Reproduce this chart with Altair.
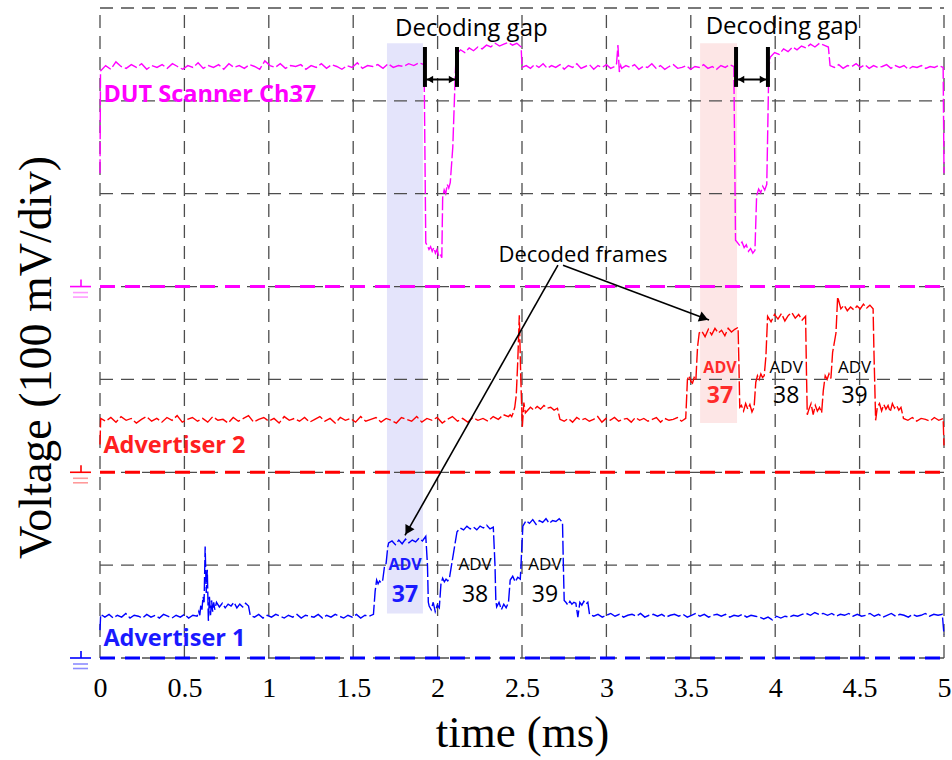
import math
import altair as alt
import pandas as pd

# ---------------------------------------------------------------- axes
TIME_TICKS = [0, 0.5, 1, 1.5, 2, 2.5, 3, 3.5, 4, 4.5, 5]          # ms
VOLT_DIVS = [0, 100, 200, 300, 400, 500, 600, 700]                  # mV, 100 mV/div

# ---------------------------------------------------------------- channels
CHANNELS = ["Advertiser 1", "Advertiser 2", "DUT Scanner Ch37"]
CH_GROUND = [0, 200, 400]            # ground reference of each channel (mV on screen)
CH_COLOR = ["#0000ff", "#ff0000", "#ff00ff"]
CH_LIGHT = ["#8c8cff", "#ff9a9a", "#ff9aff"]
CH_LABEL_COLOR = ["#1a1aff", "#ff2020", "#ff00ff"]
CH_LABEL_T = [0.02, 0.02, 0.02]
CH_LABEL_V = [20, 228, 606]

# Captured waveforms, mV above each channel's ground.
# Each piece: (start ms, end ms, samples spread evenly over the piece)
ADV1_TRACE = [
    (0.000, 0.000, [30]),
    (0.004, 0.575, [47, 44, 47, 43, 46, 44, 48, 43, 46, 45, 43, 47, 44, 46, 43, 47, 45, 43, 46, 44, 47, 43, 46, 45]),
    (0.585, 0.680, [50, 46, 58, 52, 66, 60, 120, 70, 95, 40, 66, 46, 62, 50, 60, 52]),
    (0.690, 0.880, [60, 55, 59, 54, 58, 56, 60, 54, 58, 55, 59, 56]),
    (0.890, 1.620, [46, 44, 47, 43, 46, 44, 47, 45, 43, 46, 44, 47, 43, 46, 45, 44, 47, 43, 46, 44, 47, 45, 43, 46, 44, 47, 43, 46, 45, 47]),
    (1.630, 1.665, [72, 84, 80, 83, 81]),
    (1.675, 1.705, [84, 98, 102, 120]),
    (1.710, 1.930, [124, 126, 122, 127, 123, 128, 124, 127, 125, 129, 126, 131]),
    (1.940, 1.945, [100, 60]),
    (1.950, 2.010, [56, 52, 60, 50, 57, 54]),
    (2.020, 2.070, [80, 86, 82, 85, 83, 86]),
    (2.115, 2.330, [136, 140, 138, 142, 139, 141, 138, 142, 140, 143, 139, 141]),
    (2.340, 2.345, [100, 62]),
    (2.350, 2.420, [55, 60, 52, 58, 54, 60]),
    (2.430, 2.490, [84, 88, 82, 87, 85]),
    (2.505, 2.740, [142, 148, 145, 149, 144, 148, 146, 150, 145, 148, 147, 150, 146]),
    (2.745, 2.750, [100, 62]),
    (2.760, 2.890, [60, 57, 61, 58, 60, 59, 44, 60, 57, 61, 58, 60]),
    (2.900, 4.990, [47, 45, 47, 44, 46, 48, 45, 47, 44, 46, 47, 45, 48, 44, 46, 47, 45, 47, 44, 46, 47,
                    45, 47, 44, 46, 48, 45, 47, 44, 46, 47, 45, 47, 44, 46, 45, 47, 44, 46, 45, 44,
                    42, 44, 41, 45, 43, 45, 44, 46, 45, 47, 48, 46, 49, 47, 48, 46, 48, 45, 47, 46, 48, 45,
                    47, 45, 46, 48, 45, 47, 44, 46, 48, 45, 47, 46, 44, 47, 45, 46, 48, 45, 47, 46, 47]),
    (5.000, 5.000, [25]),
]

ADV2_TRACE = [
    (0.000, 0.000, [30]),
    (0.004, 2.420, [58, 55, 59, 54, 60, 56, 58, 53, 57, 60, 55, 58, 54, 59, 56, 61, 54, 57, 59, 55,
                    58, 54, 60, 56, 57, 53, 59, 55, 58, 61, 54, 57, 59, 55, 58, 53, 60, 56, 58, 55,
                    59, 54, 57, 60, 55, 58, 53, 59, 56, 58, 54, 60, 55, 57, 59, 54, 58, 56, 53, 59,
                    57, 55, 60, 54, 58, 56, 59, 53, 57, 60, 55, 58, 54, 59, 56, 58, 55, 60, 57, 62, 60]),
    (2.430, 2.520, [62, 60, 64, 70, 83, 120, 169, 100, 49, 75, 64]),
    (2.530, 2.710, [66, 70, 67, 71, 68, 72, 69, 70, 67, 69]),
    (2.725, 3.470, [57, 55, 58, 54, 59, 56, 58, 55, 57, 60, 54, 58, 56, 59, 55, 57, 58, 54, 59, 56,
                    58, 55, 57, 59, 54, 58, 56, 57, 59, 55, 58]),
    (3.480, 3.530, [100, 104, 98, 96, 102, 99]),
    (3.540, 3.550, [135, 150]),
    (3.565, 3.780, [152, 146, 154, 148, 155, 150, 153, 147, 155, 151, 154, 156]),
    (3.785, 3.790, [117, 70]),
    (3.800, 3.875, [72, 66, 74, 68, 73, 65, 70]),
    (3.885, 3.935, [97, 104, 100, 106, 102, 104]),
    (3.945, 3.945, [125]),
    (3.955, 4.180, [168, 162, 170, 165, 171, 163, 169, 172, 166, 170, 164, 168]),
    (4.185, 4.190, [110, 62]),
    (4.200, 4.275, [68, 74, 62, 72, 66, 70, 64]),
    (4.285, 4.330, [88, 104, 100, 106, 101]),
    (4.340, 4.360, [129, 150]),
    (4.370, 4.580, [189, 176, 180, 174, 178, 175, 179, 176, 181, 177, 180, 176]),
    (4.585, 4.595, [130, 56]),
    (4.605, 4.745, [70, 74, 66, 73, 68, 72, 65, 74, 69, 72, 67, 70]),
    (4.760, 4.995, [58, 56, 59, 55, 58, 57, 55, 59, 56, 58]),
    (5.000, 5.000, [29]),
]

DUT_TRACE = [
    (0.000, 0.000, [122]),
    (0.003, 1.920, [232, 238, 234, 242, 237, 235, 239, 236, 240, 234, 238, 236, 239, 235, 240, 237, 234, 238, 236, 241,
                    235, 238, 236, 239, 234, 240, 236, 238, 235, 239, 237, 234, 243, 238, 236, 240, 235, 238, 237, 239,
                    234, 238, 236, 240, 235, 239, 237, 234, 238, 236, 241, 235, 238, 237, 239, 235, 240, 236, 238, 237,
                    240, 238, 241, 239]),
    (1.930, 2.025, [47, 44, 40, 43, 38, 42, 36, 40, 33, 35, 31]),
    (2.030, 2.075, [96, 104, 100, 110, 106, 112]),
    (2.090, 2.105, [150, 230]),
    (2.110, 2.495, [250, 255, 252, 257, 254, 258, 256, 260, 258, 262, 259, 261, 263, 260, 262, 258]),
    (2.500, 3.050, [236, 238, 235, 239, 236, 240, 235, 238, 236, 239, 234, 238, 236, 240, 235, 237, 239, 234, 238, 236,
                    239, 235, 237]),
    (3.060, 3.085, [240, 260, 231, 238]),
    (3.090, 3.755, [235, 238, 236, 239, 234, 237, 236, 240, 235, 238, 234, 237, 239, 235, 236, 238, 234, 237, 236, 239,
                    235, 237, 234, 238, 236, 239, 237]),
    (3.765, 3.880, [50, 47, 44, 48, 42, 45, 38, 41, 36, 39]),
    (3.890, 3.950, [98, 105, 101, 108, 104, 110]),
    (3.955, 3.962, [160, 235]),
    (3.970, 4.315, [247, 252, 250, 256, 253, 258, 255, 259, 257, 261, 258, 262, 260, 258]),
    (4.325, 4.995, [238, 236, 239, 235, 238, 237, 240, 236, 239, 235, 238, 236, 237, 239, 235, 238, 236, 238, 234, 237,
                    236, 238, 235, 237, 236, 238, 236]),
    (5.000, 5.000, [122]),
]
TRACES = [ADV1_TRACE, ADV2_TRACE, DUT_TRACE]

# ---------------------------------------------------------------- highlighted frames
BAND_T0 = [1.700, 3.555]
BAND_T1 = [1.913, 3.774]
BAND_LO = [48, 253]
BAND_HI = [662, 662]
BAND_COLOR = ["#e4e4fb", "#fde6e6"]

# ---------------------------------------------------------------- decoding gaps
GAP_BAR_T = [1.925, 2.115, 3.768, 3.957]
GAP_BAR_LO, GAP_BAR_HI = 615, 658
GAP_ARROW_T0 = [1.925, 3.768]
GAP_ARROW_T1 = [2.115, 3.957]
GAP_ARROW_V = 623
GAP_TEXT = ["Decoding gap", "Decoding gap"]
GAP_TEXT_T = [2.200, 4.04]
GAP_TEXT_V = [677, 680]

# ---------------------------------------------------------------- decoded-frame callout
CALLOUT_TEXT = "Decoded frames"
CALLOUT_T, CALLOUT_V = 2.861, 434
CALLOUT_FROM_T = [2.713, 2.743]
CALLOUT_FROM_V = [423, 423]
CALLOUT_TIP_T = [1.807, 3.608]
CALLOUT_TIP_V = [132, 364]

# ---------------------------------------------------------------- advertising-channel tags
TAG_CH = ["37", "38", "39", "37", "38", "39"]
TAG_T = [1.807, 2.222, 2.636, 3.673, 4.065, 4.470]
TAG_ADV_V = [100, 100, 100, 312, 312, 312]
TAG_NUM_V = [68, 68, 68, 282, 282, 282]
TAG_COLOR = ["#1a1aff", "black", "black", "#ff2a2a", "black", "black"]
TAG_BOLD = [True, False, False, True, False, False]

# ---------------------------------------------------------------- figure geometry
W, H = 844, 650
PX_PER_MS = W / (TIME_TICKS[-1] - TIME_TICKS[0])
PX_PER_MV = H / (VOLT_DIVS[-1] - VOLT_DIVS[0])

SANS = "Open Sans"
SERIF = "Liberation Serif"

# ---------------------------------------------------------------- tables
rows = []
for ci, pieces in enumerate(TRACES):
    k = 0
    for t0, t1, samples in pieces:
        n = len(samples)
        for i, mv in enumerate(samples):
            t = t0 if n == 1 else t0 + (t1 - t0) * i / (n - 1)
            rows.append({"channel": CHANNELS[ci], "idx": k, "t": t,
                         "v": mv + CH_GROUND[ci], "color": CH_COLOR[ci]})
            k += 1
trace_df = pd.DataFrame(rows)

band_df = pd.DataFrame({"t": BAND_T0, "t2": BAND_T1, "v": BAND_LO, "v2": BAND_HI, "color": BAND_COLOR})
vgrid_df = pd.DataFrame({"t": TIME_TICKS, "v": VOLT_DIVS[0], "v2": VOLT_DIVS[-1]})
hgrid_df = pd.DataFrame({"t": TIME_TICKS[0], "t2": TIME_TICKS[-1], "v": VOLT_DIVS})
ground_df = pd.DataFrame({"t": TIME_TICKS[0], "t2": TIME_TICKS[-1], "v": CH_GROUND, "color": CH_COLOR})


def ms(px):
    return px / PX_PER_MS


def mv(px):
    return px / PX_PER_MV


# ground symbols drawn just left of the screen, sized in pixels
sym = []
for g, c, lc in zip(CH_GROUND, CH_COLOR, CH_LIGHT):
    sym.append({"t": -ms(19), "t2": -ms(19), "v": g, "v2": g + mv(7), "color": c})
    sym.append({"t": -ms(30), "t2": -ms(9), "v": g, "v2": g, "color": c})
    sym.append({"t": -ms(27), "t2": -ms(12), "v": g - mv(6), "v2": g - mv(6), "color": lc})
    sym.append({"t": -ms(27), "t2": -ms(12), "v": g - mv(10.5), "v2": g - mv(10.5), "color": lc})
sym_df = pd.DataFrame(sym)

label_df = pd.DataFrame({"t": CH_LABEL_T, "v": CH_LABEL_V, "text": CHANNELS, "color": CH_LABEL_COLOR})

gapbar_df = pd.DataFrame({"t": GAP_BAR_T, "v": GAP_BAR_LO, "v2": GAP_BAR_HI})
gaparrow_df = pd.DataFrame({"t": GAP_ARROW_T0, "t2": GAP_ARROW_T1, "v": GAP_ARROW_V})
head_rows = []
for a, b in zip(GAP_ARROW_T0, GAP_ARROW_T1):
    head_rows.append({"t": a + ms(5), "v": GAP_ARROW_V, "shape": "triangle-left"})
    head_rows.append({"t": b - ms(5), "v": GAP_ARROW_V, "shape": "triangle-right"})
gaphead_df = pd.DataFrame(head_rows)
gaptext_df = pd.DataFrame({"t": GAP_TEXT_T, "v": GAP_TEXT_V, "text": GAP_TEXT})

callout_df = pd.DataFrame({"t": CALLOUT_FROM_T, "v": CALLOUT_FROM_V, "t2": CALLOUT_TIP_T, "v2": CALLOUT_TIP_V})
heads = []
for ft, fv, tt, tv in zip(CALLOUT_FROM_T, CALLOUT_FROM_V, CALLOUT_TIP_T, CALLOUT_TIP_V):
    dx = (tt - ft) * PX_PER_MS
    dy = -(tv - fv) * PX_PER_MV
    L = math.hypot(dx, dy)
    ux, uy = dx / L, dy / L
    back = 5.5
    heads.append({"t": tt - ms(back * ux), "v": tv + mv(back * uy),
                  "ang": math.degrees(math.atan2(dx, -dy)) % 360})
callhead_df = pd.DataFrame(heads)
calltext_df = pd.DataFrame({"t": [CALLOUT_T], "v": [CALLOUT_V], "text": [CALLOUT_TEXT]})

tag_df = pd.DataFrame({"t": TAG_T, "va": TAG_ADV_V, "vn": TAG_NUM_V, "num": TAG_CH,
                       "color": TAG_COLOR, "bold": TAG_BOLD})
tag_bold = tag_df[tag_df["bold"]]
tag_plain = tag_df[~tag_df["bold"]]

# ---------------------------------------------------------------- encodings
xs = alt.Scale(domain=[TIME_TICKS[0], TIME_TICKS[-1]], nice=False, zero=False)
ys = alt.Scale(domain=[VOLT_DIVS[0], VOLT_DIVS[-1]], nice=False, zero=False)

x_axis = alt.Axis(values=TIME_TICKS, format="~g", grid=False, ticks=False, domain=False,
                  labelFont=SERIF, labelFontSize=28, labelColor="black", labelPadding=16,
                  labelFlush=False, title="time (ms)", titleFont=SERIF, titleFontSize=45,
                  titleFontWeight="normal", titleColor="black", titlePadding=8)
y_axis = alt.Axis(labels=False, ticks=False, domain=False, grid=False,
                  title="Voltage (100 mV/div)", titleFont=SERIF, titleFontSize=46,
                  titleFontWeight="normal", titleColor="black", titleAngle=270,
                  titleX=-50, titleY=349, titleAlign="center", titleBaseline="alphabetic")


def X(field="t"):
    return alt.X(f"{field}:Q", scale=xs, axis=x_axis)


def Y(field="v"):
    return alt.Y(f"{field}:Q", scale=ys, axis=y_axis)


bands = alt.Chart(band_df).mark_rect().encode(
    x=X(), x2="t2:Q", y=Y(), y2="v2:Q", color=alt.Color("color:N", scale=None))

vgrid = alt.Chart(vgrid_df).mark_rule(color="#4d4d4d", strokeWidth=1.3, strokeDash=[13, 8]).encode(
    x=X(), y=Y(), y2="v2:Q")
hgrid = alt.Chart(hgrid_df).mark_rule(color="#4d4d4d", strokeWidth=1.3, strokeDash=[13, 8]).encode(
    x=X(), x2="t2:Q", y=Y())

traces = alt.Chart(trace_df).mark_line(strokeWidth=1.4, strokeDash=[14, 3]).encode(
    x=X(), y=Y(), detail="channel:N",
    order="idx:Q", color=alt.Color("color:N", scale=None))

grounds = alt.Chart(ground_df).mark_rule(strokeWidth=3, strokeDash=[15, 10]).encode(
    x=X(), x2="t2:Q", y=Y(), color=alt.Color("color:N", scale=None))

symbols = alt.Chart(sym_df).mark_rule(strokeWidth=1.6).encode(
    x=X(), x2="t2:Q", y=Y(), y2="v2:Q", color=alt.Color("color:N", scale=None))

labels = alt.Chart(label_df).mark_text(font=SANS, fontSize=23.5, fontWeight="bold",
                                       align="left", baseline="middle").encode(
    x=X(), y=Y(), text="text:N", color=alt.Color("color:N", scale=None))

gapbars = alt.Chart(gapbar_df).mark_rule(color="black", strokeWidth=4).encode(
    x=X(), y=Y(), y2="v2:Q")
gaparrows = alt.Chart(gaparrow_df).mark_rule(color="black", strokeWidth=2).encode(
    x=X(), x2="t2:Q", y=Y())
gapheads = alt.Chart(gaphead_df).mark_point(filled=True, color="black", size=55, opacity=1).encode(
    x=X(), y=Y(), shape=alt.Shape("shape:N", scale=None))
gaptexts = alt.Chart(gaptext_df).mark_text(font=SANS, fontSize=24, color="black",
                                           baseline="middle").encode(x=X(), y=Y(), text="text:N")

calllines = alt.Chart(callout_df).mark_rule(color="black", strokeWidth=1.6).encode(
    x=X(), x2="t2:Q", y=Y(), y2="v2:Q")
callheads = alt.Chart(callhead_df).mark_point(shape="triangle-up", filled=True, color="black",
                                              size=110, opacity=1).encode(
    x=X(), y=Y(), angle=alt.Angle("ang:Q", scale=None))
calltext = alt.Chart(calltext_df).mark_text(font=SANS, fontSize=22, color="black",
                                            baseline="middle").encode(x=X(), y=Y(), text="text:N")

adv_bold = alt.Chart(tag_bold).mark_text(text="ADV", font=SANS, fontSize=16, fontWeight="bold",
                                         baseline="middle").encode(
    x=X(), y=Y("va"), color=alt.Color("color:N", scale=None))
num_bold = alt.Chart(tag_bold).mark_text(font=SANS, fontSize=23, fontWeight="bold",
                                         baseline="middle").encode(
    x=X(), y=Y("vn"), text="num:N", color=alt.Color("color:N", scale=None))
adv_plain = alt.Chart(tag_plain).mark_text(text="ADV", font=SANS, fontSize=17,
                                           baseline="middle").encode(
    x=X(), y=Y("va"), color=alt.Color("color:N", scale=None))
num_plain = alt.Chart(tag_plain).mark_text(font=SANS, fontSize=23,
                                           baseline="middle").encode(
    x=X(), y=Y("vn"), text="num:N", color=alt.Color("color:N", scale=None))

chart = alt.layer(
    bands, vgrid, hgrid, traces, grounds, symbols,
    adv_bold, num_bold, adv_plain, num_plain, labels,
    gapbars, gaparrows, gapheads, gaptexts, calllines, callheads, calltext,
).properties(
    width=W, height=H, background="white",
    padding={"left": 100, "top": 8, "right": 8, "bottom": 102},
    autosize=alt.AutoSizeParams(type="none"),
).configure_view(stroke=None)

chart.save("out.html", embed_options={"renderer": "svg", "actions": False})
